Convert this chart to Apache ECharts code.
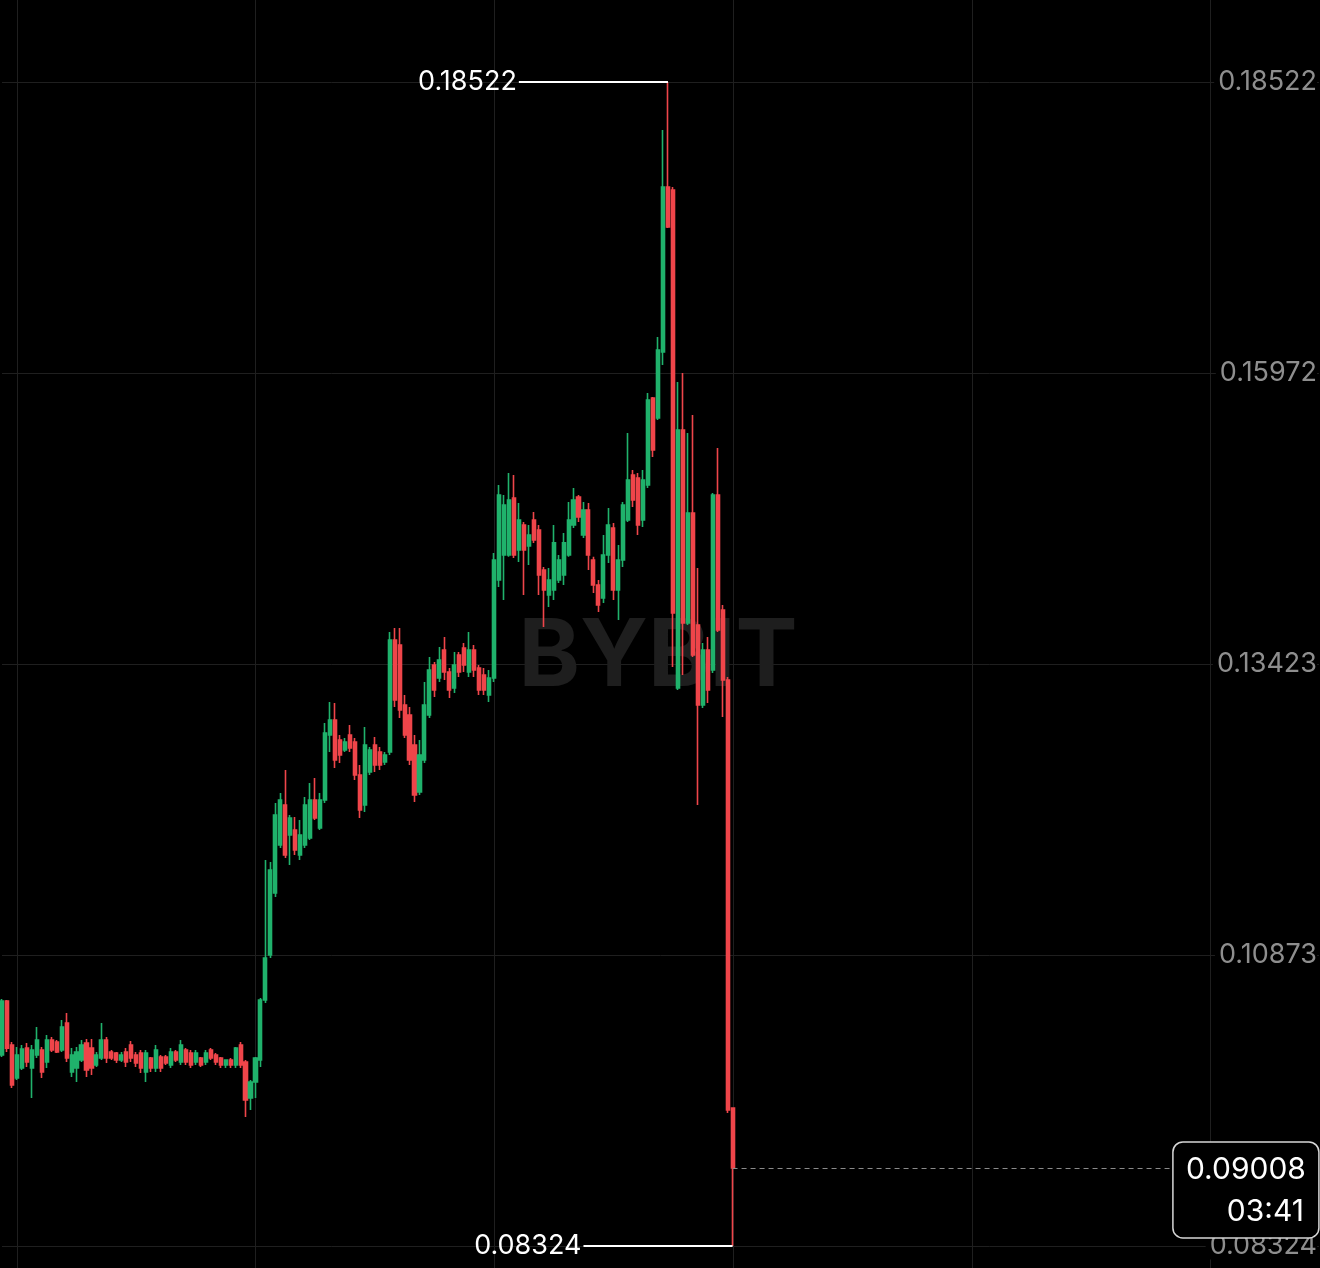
<!DOCTYPE html>
<html>
<head>
<meta charset="utf-8">
<title>BYBIT candles</title>
<script src="https://cdn.jsdelivr.net/npm/echarts@6/dist/echarts.min.js"></script>
<style>
  html, body { margin: 0; padding: 0; background: #000; }
  #chart { width: 1320px; height: 1268px; }
</style>
</head>
<body>
<div id="chart"></div>
<script>
// candle values (one entry per candle)
var opens = [
  0.09997, 0.10470, 0.10085, 0.09796, 0.09883, 0.10058, 0.09883, 0.09997, 0.10041, 0.09936,
  0.10129, 0.10111, 0.10041, 0.10278, 0.09848, 0.09883, 0.09954, 0.10102, 0.10058, 0.09910,
  0.09971, 0.10129, 0.10024, 0.10015, 0.09954, 0.10024, 0.10085, 0.09997, 0.10015, 0.09848,
  0.09971, 0.09883, 0.09980, 0.09980, 0.09910, 0.10024, 0.09936, 0.10041, 0.10015, 0.09936,
  0.09971, 0.09936, 0.10041, 0.09997, 0.09971, 0.09910, 0.09954, 0.09910, 0.10085, 0.09936,
  0.09620, 0.09761, 0.09954, 0.10479, 0.10873, 0.11417, 0.11837, 0.12188, 0.11925, 0.11969,
  0.11750, 0.11837, 0.11898, 0.12231, 0.11986, 0.12231, 0.12801, 0.12932, 0.12757, 0.12669,
  0.12801, 0.12740, 0.12450, 0.12188, 0.12477, 0.12713, 0.12652, 0.12564, 0.12652, 0.13633,
  0.13589, 0.13064, 0.12976, 0.12713, 0.12301, 0.12582, 0.12976, 0.13414, 0.13300, 0.13545,
  0.13353, 0.13213, 0.13502, 0.13563, 0.13353, 0.13545, 0.13388, 0.13326, 0.13151, 0.13300,
  0.14159, 0.14378, 0.14378, 0.14877, 0.14422, 0.14641, 0.14457, 0.14685, 0.14597, 0.14247,
  0.14027, 0.14071, 0.14159, 0.14203, 0.14378, 0.14641, 0.14886, 0.14553, 0.14772, 0.14334,
  0.14115, 0.14001, 0.14378, 0.14615, 0.14071, 0.14334, 0.14685, 0.15078, 0.15052, 0.14685,
  0.14991, 0.15753, 0.15578, 0.16156, 0.17602, 0.17576, 0.13213, 0.15473, 0.13782, 0.14746,
  0.13765, 0.13064, 0.13545, 0.13370, 0.14904, 0.13896, 0.13283, 0.09533
];
var closes = [
  0.10470, 0.10058, 0.09734, 0.09997, 0.10050, 0.09936, 0.10041, 0.10129, 0.09848, 0.10129,
  0.10041, 0.10024, 0.10243, 0.09971, 0.09997, 0.10024, 0.10085, 0.09866, 0.09883, 0.09997,
  0.10129, 0.09971, 0.09971, 0.09954, 0.09997, 0.09936, 0.09971, 0.09927, 0.09883, 0.10015,
  0.09883, 0.10041, 0.09883, 0.09927, 0.10024, 0.09954, 0.10085, 0.09936, 0.09910, 0.10015,
  0.09910, 0.10015, 0.09971, 0.09936, 0.09910, 0.09954, 0.09910, 0.10058, 0.09910, 0.09603,
  0.09761, 0.09971, 0.10479, 0.10847, 0.11618, 0.12100, 0.12231, 0.11750, 0.12074, 0.11793,
  0.11925, 0.12188, 0.12231, 0.12074, 0.12231, 0.12818, 0.12932, 0.12582, 0.12626, 0.12740,
  0.12687, 0.12450, 0.12144, 0.12713, 0.12669, 0.12538, 0.12538, 0.12626, 0.13633, 0.13108,
  0.13020, 0.12801, 0.12582, 0.12275, 0.12626, 0.13064, 0.13370, 0.13195, 0.13458, 0.13353,
  0.13195, 0.13414, 0.13353, 0.13414, 0.13545, 0.13370, 0.13195, 0.13195, 0.13300, 0.14334,
  0.14904, 0.14816, 0.14860, 0.14378, 0.14685, 0.14422, 0.14553, 0.14509, 0.14203, 0.14071,
  0.14159, 0.14484, 0.14334, 0.14484, 0.14685, 0.14860, 0.14711, 0.14772, 0.14378, 0.14115,
  0.13940, 0.14378, 0.14641, 0.14071, 0.14334, 0.14816, 0.15035, 0.14860, 0.14641, 0.15035,
  0.15736, 0.15298, 0.16174, 0.17602, 0.17252, 0.13870, 0.15473, 0.13782, 0.14746, 0.13502,
  0.13064, 0.13545, 0.13195, 0.14904, 0.13721, 0.13283, 0.09516, 0.09008
];
var lows = [
  0.09980, 0.10024, 0.09708, 0.09778, 0.09866, 0.09892, 0.09620, 0.09971, 0.09796, 0.09883,
  0.10024, 0.10015, 0.10024, 0.09936, 0.09805, 0.09761, 0.09936, 0.09805, 0.09822, 0.09892,
  0.09954, 0.09927, 0.09954, 0.09927, 0.09936, 0.09892, 0.09936, 0.09892, 0.09840, 0.09761,
  0.09848, 0.09848, 0.09848, 0.09910, 0.09883, 0.09936, 0.09910, 0.09910, 0.09883, 0.09910,
  0.09892, 0.09910, 0.09954, 0.09910, 0.09883, 0.09883, 0.09883, 0.09883, 0.09883, 0.09454,
  0.09516, 0.09620, 0.09892, 0.10453, 0.10847, 0.11382, 0.11811, 0.11723, 0.11662, 0.11750,
  0.11706, 0.11811, 0.11881, 0.12056, 0.11969, 0.12205, 0.12652, 0.12512, 0.12556, 0.12652,
  0.12652, 0.12407, 0.12074, 0.12126, 0.12450, 0.12477, 0.12494, 0.12538, 0.12626, 0.13046,
  0.12950, 0.12775, 0.12538, 0.12214, 0.12275, 0.12556, 0.12950, 0.13134, 0.13265, 0.13283,
  0.13125, 0.13169, 0.13309, 0.13353, 0.13309, 0.13309, 0.13151, 0.13151, 0.13090, 0.13265,
  0.14097, 0.13984, 0.14362, 0.14352, 0.14317, 0.14027, 0.14290, 0.14483, 0.14027, 0.13747,
  0.13922, 0.13984, 0.14133, 0.14115, 0.14362, 0.14615, 0.14667, 0.14527, 0.14247, 0.14045,
  0.13878, 0.13957, 0.14308, 0.13984, 0.13808, 0.14273, 0.14667, 0.14799, 0.14553, 0.14623,
  0.14965, 0.15237, 0.15561, 0.16042, 0.17243, 0.13397, 0.13195, 0.13326, 0.13765, 0.13484,
  0.12188, 0.13037, 0.13081, 0.13344, 0.13703, 0.12959, 0.09489, 0.08324
];
var highs = [
  0.10488, 0.10479, 0.10111, 0.10067, 0.10085, 0.10102, 0.10085, 0.10243, 0.10067, 0.10172,
  0.10155, 0.10129, 0.10304, 0.10365, 0.10058, 0.10067, 0.10129, 0.10137, 0.10137, 0.10024,
  0.10278, 0.10155, 0.10041, 0.10024, 0.10024, 0.10058, 0.10120, 0.10024, 0.10041, 0.10041,
  0.09980, 0.10085, 0.09997, 0.09997, 0.10058, 0.10041, 0.10129, 0.10058, 0.10041, 0.10041,
  0.09980, 0.10041, 0.10058, 0.10015, 0.09980, 0.09954, 0.09971, 0.10067, 0.10111, 0.09954,
  0.09778, 0.09980, 0.10497, 0.11706, 0.11688, 0.12205, 0.12293, 0.12494, 0.12100, 0.12082,
  0.12056, 0.12258, 0.12380, 0.12424, 0.12293, 0.12906, 0.13090, 0.13081, 0.12801, 0.12775,
  0.12888, 0.12775, 0.12538, 0.12871, 0.12696, 0.12783, 0.12696, 0.12652, 0.13703, 0.13738,
  0.13738, 0.13151, 0.13046, 0.12801, 0.12757, 0.13265, 0.13484, 0.13440, 0.13572, 0.13660,
  0.13388, 0.13528, 0.13528, 0.13607, 0.13703, 0.13589, 0.13414, 0.13388, 0.13370, 0.14396,
  0.14991, 0.14904, 0.15096, 0.15078, 0.14834, 0.14667, 0.14641, 0.14755, 0.14641, 0.14273,
  0.14264, 0.14641, 0.14378, 0.14571, 0.14842, 0.14965, 0.14904, 0.14842, 0.14834, 0.14362,
  0.14159, 0.14553, 0.14790, 0.14659, 0.14466, 0.14842, 0.15447, 0.15122, 0.15096, 0.15122,
  0.15797, 0.15762, 0.16288, 0.18101, 0.18522, 0.17602, 0.15894, 0.15972, 0.15447, 0.15604,
  0.14264, 0.13607, 0.13660, 0.14921, 0.15315, 0.13940, 0.13309, 0.09533
];
var yTickLabels = ['0.08324', '0.10873', '0.13423', '0.15972', '0.18522'];
var lastPriceText = '0.09008';
var countdownText = '03:41';

// the time axis keeps going past the last candle, empty slots on the right
var slotCount = 266;
var cats = [];
for (var i = 0; i < slotCount; i++) cats.push(String(i));

var kdata = opens.map(function (o, i) { return [o, closes[i], lows[i], highs[i]]; });

var hi = Math.max.apply(null, highs);
var lo = Math.min.apply(null, lows);
var hiIdx = highs.indexOf(hi);
var loIdx = lows.indexOf(lo);
var lastIdx = closes.length - 1;
var lastClose = closes[lastIdx];
var priceLineEnd = 235;

var green = '#20b26c', red = '#ef454a';
var font = 'Inter, Roboto, sans-serif';

var chart = echarts.init(document.getElementById('chart'));

var option = {
    backgroundColor: '#000',
    animation: false,
    grid: [
        // full height, only for the vertical grid lines
        { left: 2, right: 0, top: 0, bottom: 0 },
        // price area: high at the top line, low at the bottom line
        { left: 2, right: 0, top: 82, bottom: 22 }
    ],
    xAxis: [
        {
            type: 'category', gridIndex: 0, data: cats, boundaryGap: false,
            axisLine: { show: false }, axisTick: { show: false }, axisLabel: { show: false },
            splitLine: {
                show: true,
                interval: function (idx) { return (idx - 3) % 48 === 0; },
                lineStyle: { color: '#1f1f1f', width: 1 }
            }
        },
        {
            type: 'category', gridIndex: 1, data: cats, boundaryGap: false,
            axisLine: { show: false }, axisTick: { show: false }, axisLabel: { show: false },
            splitLine: { show: false }
        }
    ],
    yAxis: [
        { type: 'value', gridIndex: 0, show: false },
        {
            type: 'value', gridIndex: 1, position: 'right',
            min: lo, max: hi, interval: (hi - lo) / 4,
            axisLine: { show: false }, axisTick: { show: false },
            splitLine: { show: true, lineStyle: { color: '#1f1f1f', width: 1 } },
            axisLabel: {
                inside: true, margin: 2, color: '#8e8e8e', fontSize: 27, fontFamily: font,
                backgroundColor: '#000', padding: [0, 0, 0, 4],
                formatter: function (v) {
                    var k = Math.round((v - lo) / ((hi - lo) / 4));
                    return yTickLabels[k] || '';
                }
            }
        }
    ],
    series: [
        {
            type: 'candlestick',
            xAxisIndex: 1, yAxisIndex: 1,
            data: kdata,
            barWidth: 3.6,
            clip: false,
            itemStyle: {
                color: green, color0: red,
                borderColor: green, borderColor0: red,
                borderWidth: 1.6
            },
            markLine: {
                silent: true,
                symbol: ['none', 'none'],
                lineStyle: { color: '#fff', width: 2, type: 'solid' },
                label: {
                    show: true, position: 'start', distance: 2,
                    color: '#fff', fontSize: 27, fontFamily: font,
                    formatter: function (p) { return p.name; }
                },
                data: [
                    [{ name: hi.toFixed(5), coord: [hiIdx - 30, hi] }, { coord: [hiIdx, hi] }],
                    [{ name: lo.toFixed(5), coord: [loIdx - 30, lo] }, { coord: [loIdx, lo] }],
                    [
                        { coord: [lastIdx, lastClose], label: { show: false },
                          lineStyle: { color: '#8a8a8a', width: 1, type: [5, 4] } },
                        { coord: [priceLineEnd, lastClose] }
                    ]
                ]
            }
        }
    ]
};
chart.setOption(option);

// last price box sits at the end of the dashed line
var p = chart.convertToPixel({ gridIndex: 1 }, [priceLineEnd, lastClose]);
var boxX = p[0] + 3;
chart.setOption({
    graphic: [
        {
            type: 'text', z: 0, x: 658, y: 658,
            style: {
                text: 'BYBIT', fill: '#1e1e1e', font: 'bold 93px ' + font,
                textAlign: 'center', textVerticalAlign: 'middle'
            }
        },
        {
            type: 'rect', z: 10,
            shape: { x: boxX, y: p[1] - 26, width: 146, height: 96, r: 10 },
            style: { fill: '#000', stroke: '#d6d6d6', lineWidth: 1.5 }
        },
        {
            type: 'text', z: 11, x: boxX + 133, y: p[1] + 2,
            style: {
                text: lastPriceText, fill: '#fff', font: '30px ' + font,
                textAlign: 'right', textVerticalAlign: 'middle'
            }
        },
        {
            type: 'text', z: 11, x: boxX + 131, y: p[1] + 44,
            style: {
                text: countdownText, fill: '#fff', font: '30px ' + font,
                textAlign: 'right', textVerticalAlign: 'middle'
            }
        }
    ]
});
</script>
</body>
</html>
